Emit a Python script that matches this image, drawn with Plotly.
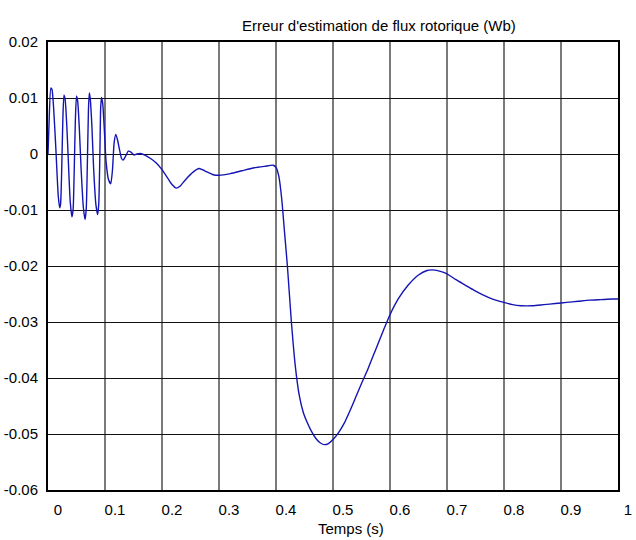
import plotly.graph_objects as go

# Time (s) and flux estimation error (Wb)
t = [0.000, 0.002, 0.005, 0.007, 0.010, 0.014, 0.018, 0.0205, 0.022, 0.024,
     0.026, 0.028, 0.030, 0.033, 0.036, 0.039, 0.042, 0.044, 0.046, 0.048,
     0.050, 0.052, 0.055, 0.058, 0.062, 0.065, 0.067, 0.069, 0.071, 0.0725,
     0.074, 0.077, 0.080, 0.084, 0.087, 0.089, 0.091, 0.0925, 0.094, 0.096,
     0.099, 0.102, 0.106, 0.110, 0.113, 0.116, 0.119, 0.122, 0.126, 0.129,
     0.132, 0.136, 0.141, 0.146, 0.151, 0.156, 0.162, 0.170, 0.180, 0.190,
     0.200, 0.210, 0.218, 0.225, 0.232, 0.242, 0.255, 0.265, 0.275, 0.290,
     0.300, 0.320, 0.340, 0.360, 0.380, 0.395, 0.400, 0.405, 0.410, 0.415,
     0.420, 0.427, 0.434, 0.441, 0.448, 0.455, 0.462, 0.470, 0.478, 0.485,
     0.492, 0.500, 0.510, 0.520, 0.530, 0.540, 0.550, 0.562, 0.575, 0.588,
     0.600, 0.615, 0.632, 0.650, 0.665, 0.675, 0.690, 0.700, 0.715, 0.732,
     0.747, 0.762, 0.780, 0.800, 0.815, 0.830, 0.850, 0.870, 0.890, 0.910,
     0.930, 0.950, 0.970, 0.990, 1.000]
err = [0.0000, 0.0060, 0.0118, 0.0115, 0.0080, 0.0005, -0.0075, -0.0096, -0.0090, -0.0030,
       0.0060, 0.0105, 0.0098, 0.0050, -0.0020, -0.0085, -0.0112, -0.0100, -0.0030, 0.0060,
       0.0103, 0.0095, 0.0045, -0.0025, -0.0095, -0.0117, -0.0100, -0.0020, 0.0080, 0.0109,
       0.0100, 0.0050, -0.0025, -0.0090, -0.0108, -0.0090, 0.0000, 0.0085, 0.0101, 0.0090,
       0.0040, -0.0015, -0.0045, -0.0053, -0.0030, 0.0020, 0.0035, 0.0025, 0.0005, -0.0008,
       -0.0011, -0.0004, 0.0005, 0.0003, -0.0002, 0.0000, 0.0001, -0.0002, -0.0008, -0.0016,
       -0.0028, -0.0043, -0.0055, -0.0061, -0.0057, -0.0045, -0.0032, -0.0026, -0.0030, -0.0037,
       -0.0038, -0.0035, -0.0030, -0.0025, -0.0022, -0.0020, -0.0024, -0.0040, -0.0080, -0.0140,
       -0.0200, -0.0300, -0.0380, -0.0432, -0.0462, -0.0480, -0.0495, -0.0508, -0.0516, -0.0519,
       -0.0517, -0.0510, -0.0497, -0.0480, -0.0458, -0.0434, -0.0410, -0.0382, -0.0349, -0.0316,
       -0.0287, -0.0258, -0.0234, -0.0216, -0.0208, -0.0207, -0.0210, -0.0214, -0.0224, -0.0234,
       -0.0243, -0.0251, -0.0259, -0.0265, -0.0269, -0.0271, -0.0271, -0.0269, -0.0267, -0.0265,
       -0.0263, -0.0261, -0.0260, -0.0259, -0.0259]

x_ticks = [0, 0.1, 0.2, 0.3, 0.4, 0.5, 0.6, 0.7, 0.8, 0.9, 1.0]
x_labels = ["0", "0.1", "0.2", "0.3", "0.4", "0.5", "0.6", "0.7", "0.8", "0.9", "1"]
y_ticks = [0.02, 0.01, 0, -0.01, -0.02, -0.03, -0.04, -0.05, -0.06]
y_labels = ["0.02", "0.01", "0", "-0.01", "-0.02", "-0.03", "-0.04", "-0.05", "-0.06"]

title_text = "Erreur d'estimation de flux rotorique (Wb)"
xlabel_text = "Temps (s)"

FONT = "Liberation Sans, Arial, sans-serif"

fig = go.Figure()
fig.add_trace(go.Scatter(x=t, y=err, mode="lines",
                         line=dict(color="#1414b4", width=1.4, shape="spline", smoothing=0.6),
                         hoverinfo="skip", showlegend=False))

fig.update_layout(
    width=636, height=540,
    margin=dict(l=48, r=18, t=42, b=50, autoexpand=False),
    paper_bgcolor="white", plot_bgcolor="white",
    font=dict(family=FONT, size=15, color="black"),
    xaxis=dict(range=[0, 1], tickvals=x_ticks, ticktext=x_labels,
               showgrid=True, gridcolor="#7a7a7a", gridwidth=1.5,
               showline=True, linecolor="black", linewidth=2, mirror=True,
               ticks="", ticklabelshift=10, ticklabelstandoff=5,
               ticklabeloverflow="allow", automargin=False,
               zeroline=False, tickfont=dict(size=15)),
    yaxis=dict(range=[-0.06, 0.02], tickvals=y_ticks, ticktext=y_labels,
               showgrid=True, gridcolor="#111111", gridwidth=1,
               showline=True, linecolor="black", linewidth=2, mirror=True,
               ticks="", ticklabelstandoff=5, automargin=False,
               zeroline=False, tickfont=dict(size=15)),
    annotations=[
        dict(text=title_text, xref="paper", yref="paper", x=0.581, y=1.036,
             xanchor="center", yanchor="middle", showarrow=False,
             font=dict(family=FONT, size=15, color="black")),
        dict(text=xlabel_text, xref="paper", yref="paper", x=0.532, y=-0.087,
             xanchor="center", yanchor="middle", showarrow=False,
             font=dict(family=FONT, size=15, color="black")),
    ],
)

fig.write_html("out.html")
